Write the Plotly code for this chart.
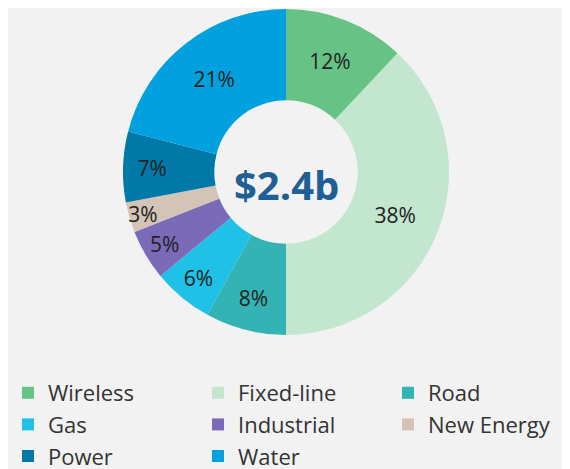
import plotly.graph_objects as go

categories = ["Wireless", "Fixed-line", "Road", "Gas", "Industrial", "New Energy", "Power", "Water"]
values = [12, 38, 8, 6, 5, 3, 7, 21]
colors = ["#66c285", "#c3e6cf", "#33b3b3", "#1fc1e6", "#7a6ab8", "#d4c4b5", "#0079a8", "#00a1de"]
center_label = "$2.4b"

FONT = "Open Sans"

fig = go.Figure(go.Pie(
    labels=categories,
    values=values,
    sort=False,
    direction="clockwise",
    rotation=0,
    hole=0.44,
    marker=dict(colors=colors, line=dict(width=0)),
    texttemplate="%{value}%",
    textposition="inside",
    insidetextorientation="horizontal",
    textfont=dict(family=FONT, size=21, color="#222222"),
    domain=dict(x=[115/570, 441/570], y=[1-327/469, 1-1/469]),
))

fig.add_annotation(
    text=center_label, x=278/570, y=1-176/469, xref="paper", yref="paper",
    showarrow=False, font=dict(family=FONT, size=40, color="#1f5f96", weight="bold"),
)

fig.update_layout(
    width=570, height=469,
    margin=dict(l=0, r=0, t=0, b=0),
    paper_bgcolor="#f2f2f2",
    plot_bgcolor="#f2f2f2",
    uniformtext=dict(minsize=21, mode="show"),
    legend=dict(
        orientation="h", x=0, y=0, xanchor="left", yanchor="bottom",
        entrywidth=145, entrywidthmode="pixels",
        font=dict(family=FONT, size=22, color="#333333"),
        itemwidth=30, traceorder="normal",
    ),
)

fig.write_html("out.html")
